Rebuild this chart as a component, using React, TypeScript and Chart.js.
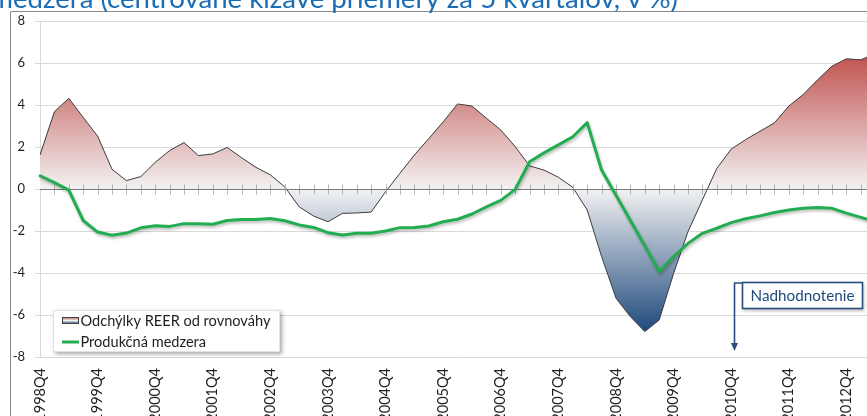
import { useEffect, useRef } from "react";
import { Chart, registerables } from "chart.js";

Chart.register(...registerables);

// Quarters on the category axis
const quarters = [
  "1998Q4",
  "1999Q1", "1999Q2", "1999Q3", "1999Q4",
  "2000Q1", "2000Q2", "2000Q3", "2000Q4",
  "2001Q1", "2001Q2", "2001Q3", "2001Q4",
  "2002Q1", "2002Q2", "2002Q3", "2002Q4",
  "2003Q1", "2003Q2", "2003Q3", "2003Q4",
  "2004Q1", "2004Q2", "2004Q3", "2004Q4",
  "2005Q1", "2005Q2", "2005Q3", "2005Q4",
  "2006Q1", "2006Q2", "2006Q3", "2006Q4",
  "2007Q1", "2007Q2", "2007Q3", "2007Q4",
  "2008Q1", "2008Q2", "2008Q3", "2008Q4",
  "2009Q1", "2009Q2", "2009Q3", "2009Q4",
  "2010Q1", "2010Q2", "2010Q3", "2010Q4",
  "2011Q1", "2011Q2", "2011Q3", "2011Q4",
  "2012Q1", "2012Q2", "2012Q3", "2012Q4",
  "2013Q1", "2013Q2",
];

// Deviation of REER from equilibrium (%)
const reerGap = [
  1.62,
  3.68, 4.32, 3.41, 2.52,
  0.94, 0.4, 0.59, 1.27,
  1.83, 2.21, 1.59, 1.67,
  1.98, 1.49, 1.03, 0.67,
  0.1, -0.85, -1.29, -1.56,
  -1.16, -1.14, -1.1, -0.13,
  0.75, 1.62, 2.4, 3.2,
  4.05, 3.95, 3.37, 2.81,
  2.02, 1.1, 0.9, 0.56,
  0.08, -1.0, -3.22, -5.2,
  -6.08, -6.79, -6.24, -4.02,
  -2.03, -0.52, 0.98, 1.9,
  2.35, 2.75, 3.15, 3.95,
  4.5, 5.2, 5.85, 6.2,
  6.15, 6.45,
];

// Output gap (%)
const outputGap = [
  0.63,
  0.3, -0.05, -1.5, -2.05,
  -2.2, -2.1, -1.85, -1.75,
  -1.78, -1.65, -1.65, -1.68,
  -1.5, -1.45, -1.45, -1.4,
  -1.51, -1.71, -1.83, -2.08,
  -2.19, -2.11, -2.11, -2.0,
  -1.84, -1.83, -1.76, -1.56,
  -1.44, -1.19, -0.85, -0.54,
  -0.02, 1.3, 1.72, 2.1,
  2.49, 3.16, 0.9, -0.3,
  -1.5, -2.7, -3.94, -3.22,
  -2.59, -2.11, -1.87, -1.6,
  -1.42, -1.28, -1.12, -1.0,
  -0.92, -0.88, -0.92, -1.15,
  -1.35, -1.55,
];

const Y_MIN = -8;
const Y_MAX = 8;
const Y_STEP = 2;
const LABEL_EVERY = 4;

const TITLE = "medzera (centrované kĺzavé priemery za 5 kvartálov, v %)";
const REER_LABEL = "Odchýlky REER od rovnováhy";
const GAP_LABEL = "Produkčná medzera";
const NOTE = "Nadhodnotenie";

const W = 890;
const H = 440;
const FONT = "Lato, 'Open Sans', sans-serif";

const RED = "#c0504d";
const MID = "#f2f2f2";
const NAVY = "#1f497d";
const GREEN = "#22ad50";
const NOTE_BLUE = "#2a4d7e";

function fitFont(ctx: CanvasRenderingContext2D, text: string, width: number, weight = "") {
  ctx.font = `${weight} 20px ${FONT}`;
  const w = ctx.measureText(text).width;
  const size = (20 * width) / w;
  return `${weight} ${size.toFixed(2)}px ${FONT}`;
}

function areaGradient(chart: any) {
  const { ctx, chartArea, scales } = chart;
  if (!chartArea || !scales.y) return MID;
  const hi = Math.max(...reerGap);
  const lo = Math.min(...reerGap);
  const yHi = scales.y.getPixelForValue(hi);
  const yLo = scales.y.getPixelForValue(lo);
  const y0 = scales.y.getPixelForValue(0);
  const g = ctx.createLinearGradient(0, yHi, 0, yLo);
  const z = Math.min(1, Math.max(0, (y0 - yHi) / (yLo - yHi)));
  g.addColorStop(0, RED);
  g.addColorStop(z, MID);
  g.addColorStop(1, NAVY);
  return g;
}

const decorations = {
  id: "decorations",
  beforeDraw(chart: any) {
    const { ctx } = chart;
    ctx.save();
    ctx.fillStyle = "#ffffff";
    ctx.fillRect(0, 0, W, H);
    // outer frame
    ctx.strokeStyle = "#8a8a8a";
    ctx.lineWidth = 1;
    ctx.beginPath();
    ctx.moveTo(10.5, H);
    ctx.lineTo(10.5, 11.5);
    ctx.lineTo(W, 11.5);
    ctx.stroke();
    // title
    ctx.font = fitFont(ctx, TITLE, 688);
    ctx.fillStyle = "#1b6db4";
    ctx.textAlign = "right";
    ctx.textBaseline = "alphabetic";
    ctx.fillText(TITLE, 678, 8);
    ctx.restore();
  },
  beforeDatasetDraw(chart: any, args: any) {
    if (args.index === 0) {
      const { ctx } = chart;
      ctx.save();
      ctx.shadowColor = "rgba(0,0,0,0.28)";
      ctx.shadowBlur = 3;
      ctx.shadowOffsetX = 1;
      ctx.shadowOffsetY = 2;
    }
  },
  afterDatasetDraw(chart: any, args: any) {
    const { ctx, chartArea, scales } = chart;
    if (args.index === 0) {
      ctx.restore();
      return;
    }
    // horizontal category axis crossing at zero, with a tick per quarter
    const y0 = Math.round(scales.y.getPixelForValue(0)) + 0.5;
    ctx.save();
    ctx.strokeStyle = "#b5b5b5";
    ctx.lineWidth = 1;
    ctx.beginPath();
    for (let i = 1; i < quarters.length; i++) {
      const x = Math.round(scales.x.getPixelForValue(i)) + 0.5;
      ctx.moveTo(x, y0 - 5);
      ctx.lineTo(x, y0 + 5);
    }
    ctx.stroke();
    ctx.strokeStyle = "#7a7a7a";
    ctx.lineWidth = 1.2;
    ctx.beginPath();
    ctx.moveTo(chartArea.left, y0);
    ctx.lineTo(chartArea.right, y0);
    ctx.stroke();
    ctx.restore();
  },
  afterDraw(chart: any) {
    const { ctx } = chart;
    ctx.save();

    // legend
    ctx.save();
    ctx.shadowColor = "rgba(0,0,0,0.35)";
    ctx.shadowBlur = 4;
    ctx.shadowOffsetX = 2;
    ctx.shadowOffsetY = 2;
    ctx.fillStyle = "#ffffff";
    ctx.fillRect(53, 310, 227, 42);
    ctx.restore();
    ctx.strokeStyle = "#e2e2e2";
    ctx.lineWidth = 1;
    ctx.strokeRect(53.5, 310.5, 226, 41);

    const ig = ctx.createLinearGradient(0, 317, 0, 324);
    ig.addColorStop(0, RED);
    ig.addColorStop(0.5, MID);
    ig.addColorStop(1, NAVY);
    ctx.fillStyle = ig;
    ctx.fillRect(62, 317, 17, 7);
    ctx.strokeStyle = "#404040";
    ctx.strokeRect(62.5, 317.5, 16, 6);

    ctx.strokeStyle = GREEN;
    ctx.lineWidth = 3;
    ctx.beginPath();
    ctx.moveTo(62, 342);
    ctx.lineTo(79, 342);
    ctx.stroke();

    const legendFont = fitFont(ctx, REER_LABEL, 190);
    ctx.font = legendFont;
    ctx.fillStyle = "#1e1e1e";
    ctx.textAlign = "left";
    ctx.textBaseline = "middle";
    ctx.fillText(REER_LABEL, 80.5, 321);
    ctx.fillText(GAP_LABEL, 80.5, 342);

    // note box with arrow
    ctx.save();
    ctx.shadowColor = "rgba(0,0,0,0.25)";
    ctx.shadowBlur = 3;
    ctx.shadowOffsetX = 1;
    ctx.shadowOffsetY = 2;
    ctx.fillStyle = "#ffffff";
    ctx.fillRect(742, 282, 121, 27);
    ctx.restore();
    ctx.strokeStyle = NOTE_BLUE;
    ctx.lineWidth = 1.6;
    ctx.strokeRect(742.5, 282.5, 120, 26);

    ctx.beginPath();
    ctx.moveTo(742, 283);
    ctx.lineTo(734.5, 283);
    ctx.lineTo(734.5, 345);
    ctx.stroke();
    ctx.fillStyle = NOTE_BLUE;
    ctx.beginPath();
    ctx.moveTo(731, 343);
    ctx.lineTo(738, 343);
    ctx.lineTo(734.5, 351);
    ctx.closePath();
    ctx.fill();

    ctx.font = fitFont(ctx, NOTE, 104);
    ctx.fillStyle = "#1f497d";
    ctx.textAlign = "center";
    ctx.textBaseline = "middle";
    ctx.fillText(NOTE, 802.5, 296);

    ctx.restore();
  },
};

export default function App() {
  const canvasRef = useRef<HTMLCanvasElement | null>(null);

  useEffect(() => {
    const canvas = canvasRef.current;
    if (!canvas) return;
    const chart = new Chart(canvas, {
      type: "line",
      data: {
        labels: quarters,
        datasets: [
          {
            label: GAP_LABEL,
            data: outputGap,
            borderColor: GREEN,
            borderWidth: 3,
            pointRadius: 0,
            fill: false,
            tension: 0,
            borderJoinStyle: "round",
            borderCapStyle: "round",
            order: 0,
          },
          {
            label: REER_LABEL,
            data: reerGap,
            borderColor: "#3c3c3c",
            borderWidth: 1,
            pointRadius: 0,
            fill: "origin",
            backgroundColor: (c: any) => areaGradient(c.chart),
            tension: 0,
            borderJoinStyle: "round",
            order: 1,
          },
        ],
      },
      options: {
        responsive: false,
        animation: false,
        devicePixelRatio: 1,
        layout: { padding: { left: 0, top: 21, right: W - 875.2, bottom: 0 } },
        plugins: {
          legend: { display: false },
          tooltip: { enabled: false },
          title: { display: false },
        },
        scales: {
          x: {
            type: "category",
            offset: false,
            grid: { display: false, drawTicks: false },
            border: { display: false },
            ticks: {
              autoSkip: false,
              minRotation: 90,
              maxRotation: 90,
              padding: 11,
              color: "#1e1e1e",
              font: { family: FONT, size: 14.5 },
              callback: (_v: any, i: number) => (i % LABEL_EVERY === 0 ? quarters[i] : null),
            },
            afterFit: (s: any) => {
              s.height = H - 357;
            },
          },
          y: {
            min: Y_MIN,
            max: Y_MAX,
            ticks: {
              stepSize: Y_STEP,
              padding: 10,
              color: "#1e1e1e",
              font: { family: FONT, size: 13 },
            },
            grid: { color: "#d9d9d9", lineWidth: 1, tickLength: 5, drawTicks: true },
            border: { color: "#d9d9d9" },
            afterFit: (s: any) => {
              s.width = 40;
            },
          },
        },
      },
      plugins: [decorations],
    } as any);
    return () => chart.destroy();
  }, []);

  return (
    <div
      style={{
        position: "fixed",
        left: 0,
        top: 0,
        width: 867,
        height: 416,
        overflow: "hidden",
        background: "#ffffff",
      }}
    >
      <canvas
        ref={canvasRef}
        width={W}
        height={H}
        style={{ position: "absolute", left: 0, top: 0, width: W, height: H }}
      />
    </div>
  );
}
